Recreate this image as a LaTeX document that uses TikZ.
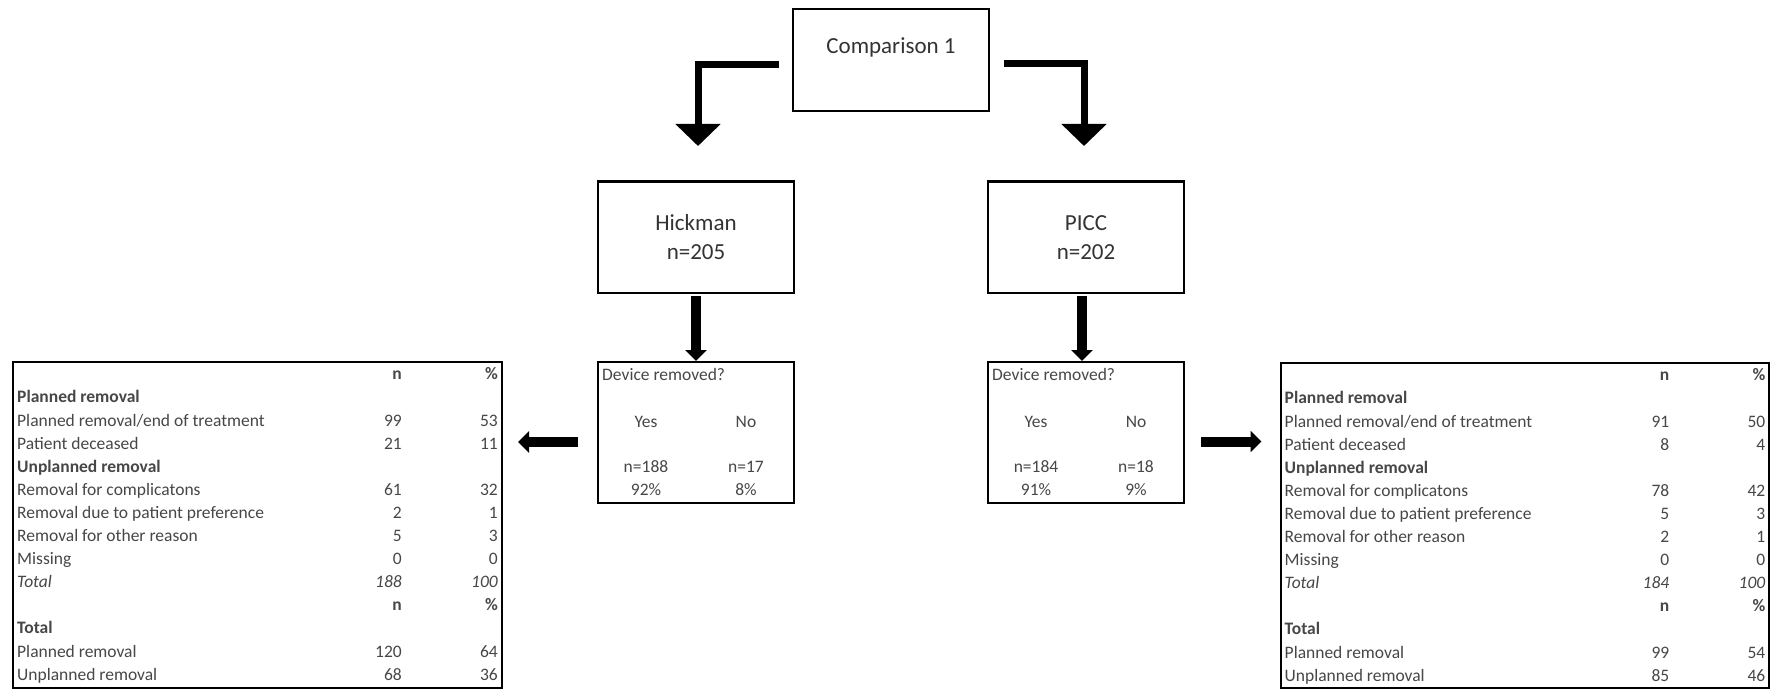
\documentclass[tikz,border=0pt]{standalone}
\usepackage{fontspec}
\setmainfont{Carlito}
\usetikzlibrary{arrows.meta,calc}

\newcommand\tlab[4]{% table, row, font, text
  \pgfmathsetmacro\rowy{16.5+23.1*#2}
  \node[tt,anchor=mid west] (#1-#2-l) at ($(#1.north west)+(5,\rowy)$) {#3#4};
}
\newcommand\tnum[5]{% table, row, font, n, pct
  \pgfmathsetmacro\rowy{16.5+23.1*#2}
  \node[tt,anchor=mid east] (#1-#2-n) at ($(#1.north west)+(390,\rowy)$) {#3#4};
  \node[tt,anchor=mid east] (#1-#2-p) at ($(#1.north west)+(486,\rowy)$) {#3#5};
}

\begin{document}
\begin{tikzpicture}[x=1pt,y=-1pt,
  box/.style={draw=black,line width=2pt,inner sep=0pt,fill=white},
  lbl/.style={font=\fontsize{23}{29}\selectfont,text=black!80},
  tt/.style={font=\fontsize{17.5}{20}\selectfont,text=black!72,inner sep=0pt},
  elbow/.style={line width=7pt,line join=miter,-{Triangle[length=22pt,width=44pt]}},
  midarrow/.style={line width=10pt,-{Triangle[length=11pt,width=21pt]}}]
\fill[white] (0,0) rectangle (1778,690);
\useasboundingbox (0,0) rectangle (1778,690);

% top box
\node[box,minimum width=196pt,minimum height=102pt] (cmp) at (891,60) {};
\node[lbl] (cmpt) at ([yshift=-39pt]cmp.north) {Comparison 1};

% arms
\node[box,lbl,align=center,minimum width=196pt,minimum height=111pt] (hick) at (696,237.5) {Hickman\\n=205};
\node[box,lbl,align=center,minimum width=196pt,minimum height=111pt] (picc) at (1086,237.5) {PICC\\n=202};
\draw[line width=3pt] (hick.north west) -- (hick.north east);
\draw[line width=3pt] (picc.north west) -- (picc.north east);

% elbow connectors
\draw[elbow] ([xshift=-13pt,yshift=-4.5pt]cmp.west) -| ([xshift=2pt,yshift=35pt]hick.north);
\draw[elbow] ([xshift=14pt,yshift=-3.5pt]cmp.east) -| ([xshift=-2pt,yshift=35pt]picc.north);

% device boxes
\node[box,minimum width=196pt,minimum height=141pt] (dev1) at (696,432.5) {};
\node[box,minimum width=196pt,minimum height=141pt] (dev2) at (1086,432.5) {};

\draw[midarrow] ([yshift=-2pt]hick.south) -- (dev1.north);
\draw[midarrow] ([xshift=-4pt,yshift=-2pt]picc.south) -- ([xshift=-4pt]dev2.north);

\foreach \d/\yn/\yp/\nn/\np/\pn/\pp in {dev1/n=188/92\%/n=17/8\%/Yes/No, dev2/n=184/91\%/n=18/9\%/Yes/No}{
  \node[tt,anchor=mid west] (\d-q) at ($(\d.north west)+(5,17)$) {Device removed?};
  \node[tt,anchor=mid] (\d-y) at ($(\d.north west)+(49,64)$) {\pn};
  \node[tt,anchor=mid] (\d-n) at ($(\d.north west)+(149,64)$) {\pp};
  \node[tt,anchor=mid] (\d-yc) at ($(\d.north west)+(49,109)$) {\yn};
  \node[tt,anchor=mid] (\d-nc) at ($(\d.north west)+(149,109)$) {\nn};
  \node[tt,anchor=mid] (\d-yp) at ($(\d.north west)+(49,132)$) {\yp};
  \node[tt,anchor=mid] (\d-np) at ($(\d.north west)+(149,132)$) {\np};
}

% tables
\node[box,minimum width=489pt,minimum height=326pt] (tab1) at (257.5,525) {};
\node[box,minimum width=488pt,minimum height=325pt] (tab2) at (1524.5,525.5) {};

% side arrows
\coordinate (a1s) at ([xshift=-19pt,yshift=-9.5pt]dev1.west);
\draw[midarrow] (a1s) -- ([xshift=15pt]tab1.east |- a1s);
\coordinate (a2s) at ([xshift=16pt,yshift=-9pt]dev2.east);
\draw[midarrow] (a2s) -- ([xshift=-18pt]tab2.west |- a2s);

% table 1
\tnum{tab1}{0}{\bfseries}{n}{\%}
\tlab{tab1}{1}{\bfseries}{Planned removal}
\tlab{tab1}{2}{}{Planned removal/end of treatment}\tnum{tab1}{2}{}{99}{53}
\tlab{tab1}{3}{}{Patient deceased}\tnum{tab1}{3}{}{21}{11}
\tlab{tab1}{4}{\bfseries}{Unplanned removal}
\tlab{tab1}{5}{}{Removal for complicatons}\tnum{tab1}{5}{}{61}{32}
\tlab{tab1}{6}{}{Removal due to patient preference}\tnum{tab1}{6}{}{2}{1}
\tlab{tab1}{7}{}{Removal for other reason}\tnum{tab1}{7}{}{5}{3}
\tlab{tab1}{8}{}{Missing}\tnum{tab1}{8}{}{0}{0}
\tlab{tab1}{9}{\itshape}{Total}\tnum{tab1}{9}{\itshape}{188}{100}
\tnum{tab1}{10}{\bfseries}{n}{\%}
\tlab{tab1}{11}{\bfseries}{Total}
\tlab{tab1}{12}{}{Planned removal}\tnum{tab1}{12}{}{120}{64}
\tlab{tab1}{13}{}{Unplanned removal}\tnum{tab1}{13}{}{68}{36}

% table 2
\tnum{tab2}{0}{\bfseries}{n}{\%}
\tlab{tab2}{1}{\bfseries}{Planned removal}
\tlab{tab2}{2}{}{Planned removal/end of treatment}\tnum{tab2}{2}{}{91}{50}
\tlab{tab2}{3}{}{Patient deceased}\tnum{tab2}{3}{}{8}{4}
\tlab{tab2}{4}{\bfseries}{Unplanned removal}
\tlab{tab2}{5}{}{Removal for complicatons}\tnum{tab2}{5}{}{78}{42}
\tlab{tab2}{6}{}{Removal due to patient preference}\tnum{tab2}{6}{}{5}{3}
\tlab{tab2}{7}{}{Removal for other reason}\tnum{tab2}{7}{}{2}{1}
\tlab{tab2}{8}{}{Missing}\tnum{tab2}{8}{}{0}{0}
\tlab{tab2}{9}{\itshape}{Total}\tnum{tab2}{9}{\itshape}{184}{100}
\tnum{tab2}{10}{\bfseries}{n}{\%}
\tlab{tab2}{11}{\bfseries}{Total}
\tlab{tab2}{12}{}{Planned removal}\tnum{tab2}{12}{}{99}{54}
\tlab{tab2}{13}{}{Unplanned removal}\tnum{tab2}{13}{}{85}{46}
\end{tikzpicture}
\end{document}
